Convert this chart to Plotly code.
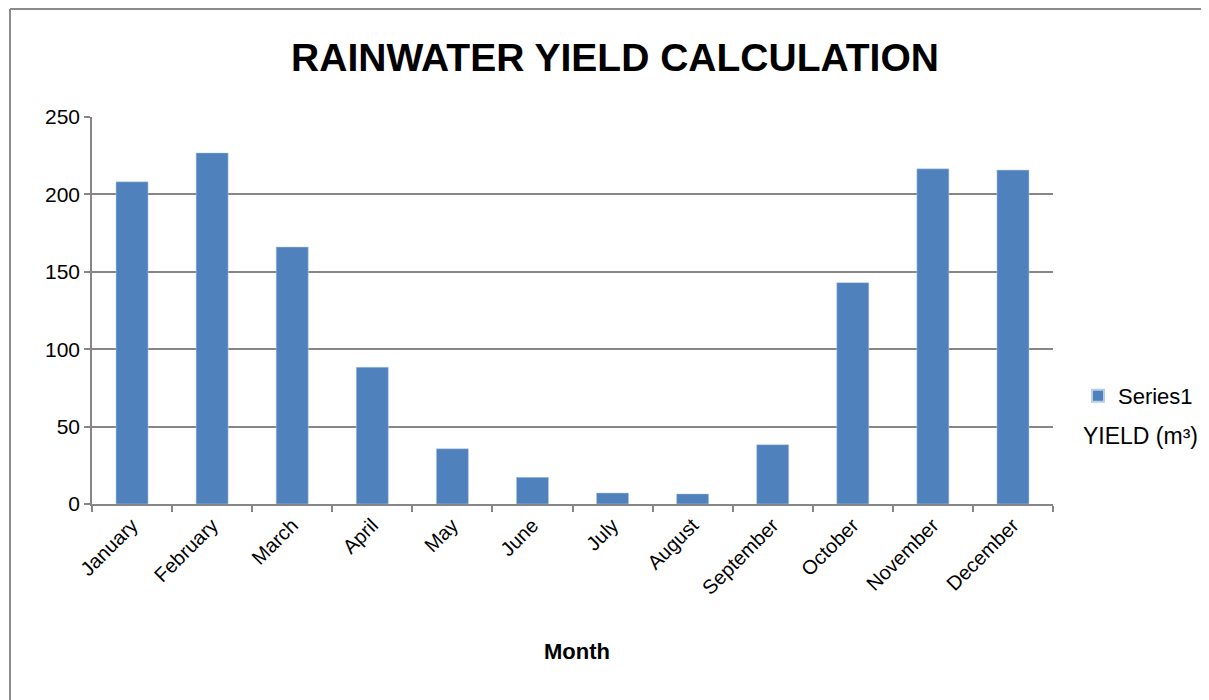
import plotly.graph_objects as go

months = ["January", "February", "March", "April", "May", "June", "July",
          "August", "September", "October", "November", "December"]
yield_m3 = [208.1, 226.8, 166.0, 88.4, 35.7, 17.2, 7.1, 6.5, 38.3, 143.0, 216.5, 215.7]
y_ticks = [0, 50, 100, 150, 200, 250]

# page body has an 8px margin, so work in screen coords and subtract it
OFF = 8
W, H = 1209 - OFF, 700 - OFF
L, R, T, B = 92 - OFF, 1053 - OFF, 117 - OFF, 504 - OFF
pw, ph = R - L, B - T

def px(x):
    return (x - OFF - L) / pw

def py(y):
    return (B - (y - OFF)) / ph

font = "Liberation Sans"
grid = "#868686"

fig = go.Figure()
fig.add_trace(go.Bar(x=months, y=yield_m3, name="Series1",
                     marker=dict(color="#4F81BD", line=dict(color="#B9CDE5", width=0.5)),
                     width=0.4))

fig.update_layout(
    width=W, height=H,
    margin=dict(l=L, r=W - R, t=T, b=H - B, autoexpand=False),
    paper_bgcolor="white", plot_bgcolor="white",
    font=dict(family=font, color="black"),
    title=dict(text="<b>RAINWATER YIELD CALCULATION</b>", x=(615 - OFF) / W, xanchor="center",
               y=1 - (57 - OFF) / H, yanchor="middle", font=dict(size=39, family=font, color="black")),
    showlegend=True,
    legend=dict(x=px(1078), y=py(396), xanchor="left", yanchor="middle",
                font=dict(size=22, family=font), itemsizing="constant",
                bgcolor="rgba(0,0,0,0)", tracegroupgap=0, itemwidth=30),
    bargap=0.6,
)
fig.update_xaxes(
    type="category", showgrid=False, showline=True, linecolor=grid, linewidth=1.5,
    ticks="outside", tickson="boundaries", ticklen=6, tickcolor=grid, tickwidth=1.5,
    tickangle=-45, tickfont=dict(size=20, family=font, color="black"),
)
fig.update_yaxes(
    range=[0, 250], tickvals=y_ticks, showgrid=True, gridcolor=grid, gridwidth=1.5,
    showline=True, linecolor=grid, linewidth=1.5, ticks="outside", ticklen=6,
    tickcolor=grid, tickwidth=1.5, tickfont=dict(size=21, family=font, color="black"),
    zeroline=False,
)
fig.add_annotation(text="<b>Month</b>", xref="paper", yref="paper", x=px(577), y=py(651),
                   showarrow=False, font=dict(size=22, family=font, color="black"),
                   xanchor="center", yanchor="middle")
fig.add_annotation(text="YIELD (m³)", xref="paper", yref="paper", x=px(1140), y=py(436),
                   showarrow=False, font=dict(size=23, family=font, color="black"),
                   xanchor="center", yanchor="middle")
# chart area border (left and top visible)
fig.add_shape(type="line", xref="paper", yref="paper", x0=px(10), x1=px(10),
              y0=py(9), y1=py(710), line=dict(color="#8C8C8C", width=2))
fig.add_shape(type="line", xref="paper", yref="paper", x0=px(10), x1=px(1215),
              y0=py(9), y1=py(9), line=dict(color="#8C8C8C", width=2))

fig.write_html("out.html")
